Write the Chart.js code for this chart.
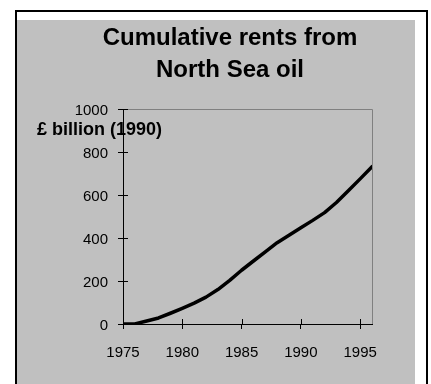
<!DOCTYPE html>
<html>
<head>
<meta charset="utf-8">
<script src="https://cdn.jsdelivr.net/npm/chart.js@4/dist/chart.umd.min.js"></script>
<style>
  html, body { margin: 0; padding: 0; background: #fff; overflow: hidden; }
  #frame {
    position: absolute; left: 15px; top: 10px;
    width: 409px; height: 400px;
    border: 2px solid #000;
  }
  #panel {
    position: absolute; left: 17px; top: 20px;
    width: 398px; height: 364px;
    background: #c0c0c0;
  }
  canvas { display: block; }
</style>
</head>
<body>
<div id="frame"></div>
<div id="panel"><canvas id="myChart" width="398" height="364"></canvas></div>
<script>
    // Cumulative rents, £ billion at 1990 prices
    const years = [1975, 1976, 1977, 1978, 1979, 1980, 1981, 1982, 1983, 1984, 1985,
                   1986, 1987, 1988, 1989, 1990, 1991, 1992, 1993, 1994, 1995, 1996];
    const rents = [0, 0, 14, 28, 50, 73, 97, 125, 160, 203, 250,
                   293, 336, 378, 413, 448, 482, 518, 565, 620, 675, 732];
    const yTicks = [0, 200, 400, 600, 800, 1000];
    const titleLines = ['Cumulative rents from', 'North Sea oil'];
    const unitLabel = '£ billion (1990)';

    const FONT = "'Liberation Sans', Arial, sans-serif";

    // Inner half of the tick marks, gray frame on top/right, titles
    const axisExtras = {
        id: 'axisExtras',
        beforeDatasetsDraw(chart) {
            const { ctx, chartArea: a, scales: { x, y } } = chart;
            ctx.save();
            ctx.strokeStyle = '#808080';
            ctx.lineWidth = 1;
            ctx.beginPath();
            ctx.moveTo(a.left, Math.round(a.top) + 0.5);
            ctx.lineTo(Math.round(a.right) + 0.5, Math.round(a.top) + 0.5);
            ctx.lineTo(Math.round(a.right) + 0.5, a.bottom);
            ctx.stroke();

            ctx.strokeStyle = '#000';
            ctx.beginPath();
            x.ticks.forEach(t => {
                const px = Math.round(x.getPixelForValue(t.value)) + 0.5;
                ctx.moveTo(px, a.bottom);
                ctx.lineTo(px, a.bottom - 5);
            });
            y.ticks.forEach(t => {
                const py = Math.round(y.getPixelForValue(t.value)) + 0.5;
                ctx.moveTo(a.left, py);
                ctx.lineTo(a.left + 5, py);
            });
            ctx.stroke();
            ctx.restore();
        },
        afterDraw(chart) {
            const { ctx } = chart;
            ctx.save();
            ctx.fillStyle = '#000';
            ctx.textBaseline = 'alphabetic';

            ctx.font = 'bold 24px ' + FONT;
            ctx.textAlign = 'center';
            titleLines.forEach((line, i) => ctx.fillText(line, 213, 25 + i * 32));

            ctx.font = 'bold 18px ' + FONT;
            ctx.textAlign = 'left';
            ctx.fillText(unitLabel, 20, 115);
            ctx.restore();
        }
    };

    const data = {
        datasets: [{
            label: 'Cumulative rents',
            data: years.map((yr, i) => ({ x: yr, y: rents[i] })),
            borderColor: '#000',
            borderWidth: 3.5,
            borderJoinStyle: 'round',
            borderCapStyle: 'round',
            pointRadius: 0,
            tension: 0
        }]
    };

    const options = {
        responsive: false,
        animation: false,
        devicePixelRatio: 1,
        layout: { padding: { left: 0, right: 43, top: 89, bottom: 0 } },
        plugins: {
            legend: { display: false },
            tooltip: { enabled: false },
            title: { display: false }
        },
        scales: {
            x: {
                type: 'linear',
                min: years[0],
                max: years[years.length - 1],
                afterFit(scale) { scale.height = 60; },
                border: { color: '#000', width: 1 },
                grid: { drawOnChartArea: false, drawTicks: true, tickLength: 5, color: '#000' },
                ticks: {
                    stepSize: 5,
                    includeBounds: false,
                    maxRotation: 0,
                    padding: 15,
                    color: '#000',
                    font: { family: FONT, size: 15 },
                    callback: v => String(v)
                }
            },
            y: {
                min: yTicks[0],
                max: yTicks[yTicks.length - 1],
                afterFit(scale) { scale.width = 106; },
                border: { color: '#000', width: 1 },
                grid: { drawOnChartArea: false, drawTicks: true, tickLength: 5, color: '#000' },
                ticks: {
                    stepSize: 200,
                    padding: 10,
                    labelOffset: 2,
                    color: '#000',
                    font: { family: FONT, size: 15 },
                    callback: v => String(v)
                }
            }
        }
    };

    const ctx = document.getElementById('myChart').getContext('2d');
    const myChart = new Chart(ctx, {
        type: 'line',
        data: data,
        options: options,
        plugins: [axisExtras]
    });
</script>
</body>
</html>
